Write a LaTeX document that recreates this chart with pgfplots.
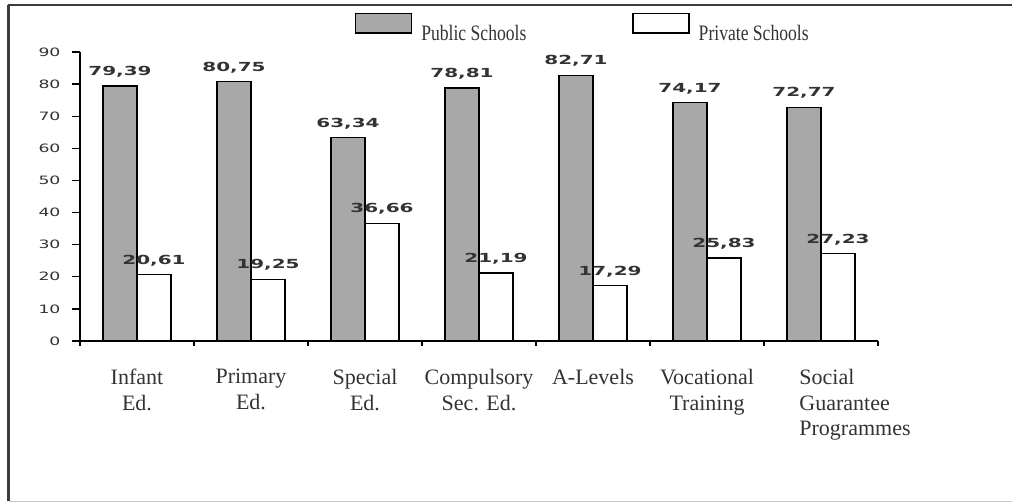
\documentclass[border=0pt]{standalone}
\usepackage{pgfplots}
\pgfplotsset{compat=1.18}
\usepackage{fontspec}
\setmainfont{Liberation Serif}
\newfontfamily\numfont[FakeStretch=1.5]{DejaVu Sans}
\newfontfamily\valfont[FakeStretch=1.6]{DejaVu Sans}
\newfontfamily\legfont[FakeStretch=0.8]{Liberation Serif}
\definecolor{pubgrey}{HTML}{A8A8A8}
\definecolor{txtgrey}{HTML}{333333}
\definecolor{framedark}{HTML}{3C3C3C}
\pgfplotsset{boxlegend/.style={legend image code/.code={\draw[##1] (0pt,0.2pt) rectangle (56pt,19.8pt);}}}

\begin{document}
\begin{tikzpicture}[x=1pt,y=1pt]
\path[use as bounding box] (0,0) rectangle (1012,503);
% outer frame
\draw[framedark, line width=2.5pt] (8.7,1.5) -- (8.7,498);
\draw[framedark, line width=2.5pt] (7.5,498) -- (1012,498);
\draw[black!22, line width=1.5pt] (8.7,1.5) -- (1012,1.5);

\begin{axis}[
    at={(80pt,162pt)}, anchor=south west,
    scale only axis, width=798pt, height=289pt,
    ybar,
    ymin=0, ymax=90, ytick={0,10,...,90},
    xmin=-0.5, xmax=6.5,
    axis x line*=bottom, axis y line*=left,
    axis line style={black, line width=1.3pt},
    every tick/.style={black, line width=1.3pt},
    tick align=outside,
    major tick length=8pt,
    minor tick length=5pt,
    xtick={0,...,5},
    xticklabels={{Infant\\Ed.},{Primary\\Ed.},{Special\\Ed.},{Compulsory\\Sec. Ed.},{A-Levels},{Vocational\\Training}},
    minor xtick={-0.5,0.5,...,6.5},
    major x tick style={draw=none},
    extra x ticks={6},
    extra x tick labels={{Social\\Guarantee\\Programmes}},
    extra x tick style={major x tick style={draw=none}, xticklabel style={align=left, xshift=34pt}},
    xticklabel style={font=\fontsize{22}{25.7}\selectfont, text=txtgrey, align=center, inner sep=0pt, yshift=-20pt},
    yticklabel style={font=\numfont\fontsize{11.5}{12}\selectfont, text=txtgrey, xshift=-8pt},
    /pgf/number format/assume math mode=true,
    nodes near coords={\pgfmathprintnumber[use comma, fixed, fixed zerofill, precision=2]{\pgfplotspointmeta}},
    every node near coord/.append style={font=\valfont\bfseries\fontsize{12.5}{13}\selectfont, text=txtgrey, inner sep=0pt, yshift=8pt},
    legend columns=2,
    legend style={draw=none, fill=none, inner sep=0pt, outer sep=0pt,
        at={(axis description cs:0.3446,1.136)}, anchor=north west,
        font=\legfont\fontsize{22}{24}\selectfont, text=txtgrey,
        nodes={inner sep=0pt},
        /tikz/every odd column/.append style={column sep=9pt},
        /tikz/every even column/.append style={column sep=106pt}},
]
\addplot[fill=pubgrey, draw=black, line width=1.3pt, bar width=34pt, bar shift=-17pt, boxlegend]
    coordinates {(0,79.39) (1,80.75) (2,63.34) (3,78.81) (4,82.71) (5,74.17) (6,72.77)};
\addplot[fill=white, draw=black, line width=1.3pt, bar width=34pt, bar shift=17pt, boxlegend]
    coordinates {(0,20.61) (1,19.25) (2,36.66) (3,21.19) (4,17.29) (5,25.83) (6,27.23)};
\legend{Public Schools, Private Schools}
\end{axis}
\end{tikzpicture}
\end{document}
